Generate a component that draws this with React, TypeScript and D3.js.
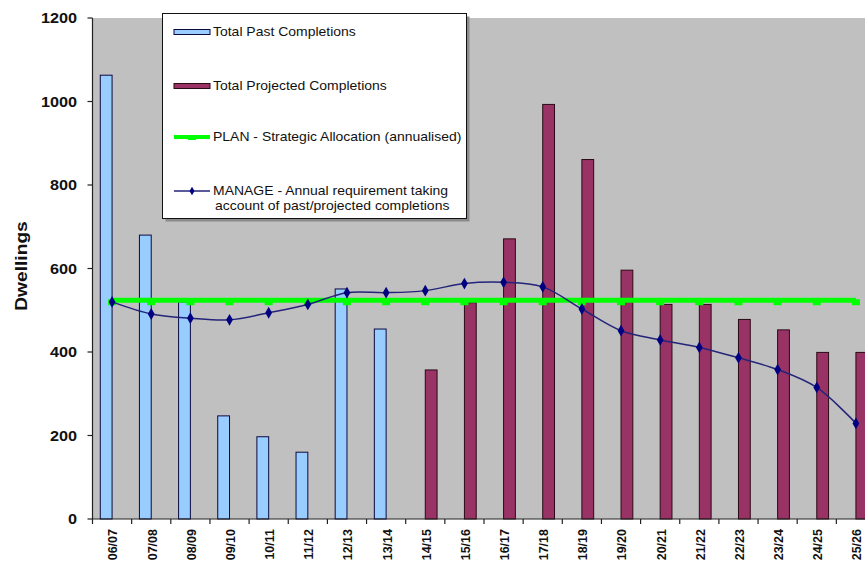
import React from "react";
import * as d3 from "d3";

const categories = ["06/07","07/08","08/09","09/10","10/11","11/12","12/13","13/14","14/15","15/16","16/17","17/18","18/19","19/20","20/21","21/22","22/23","23/24","24/25","25/26"];
const pastCompletions: (number | null)[] = [1063, 680, 520, 247, 197, 160, 551, 455, null, null, null, null, null, null, null, null, null, null, null, null];
const projectedCompletions: (number | null)[] = [null, null, null, null, null, null, null, null, 357, 518, 671, 993, 861, 596, 514, 514, 478, 453, 399, 399];
const planAllocation = [524, 524, 524, 524, 524, 524, 524, 524, 524, 524, 524, 524, 524, 524, 524, 524, 524, 524, 524, 524];
const manageRequirement = [520, 491, 481, 477, 494, 514, 542, 542, 547, 564, 567, 556, 503, 451, 429, 411, 386, 358, 315, 229];
const yTicks = [0, 200, 400, 600, 800, 1000, 1200];
const seriesKeys = ["past", "projected"];
const legendLabels = ["Total Past Completions", "Total Projected Completions", "PLAN - Strategic Allocation (annualised)", "MANAGE - Annual requirement taking", "account of past/projected completions"];

const W = 865, H = 566;
const left = 92.5, right = 875.5, top = 18, bottom = 519;
const FONT = "'Liberation Sans', Arial, sans-serif";

export default function App() {
  const x = d3.scaleBand<string>().domain(categories).range([left, right]).paddingInner(0).paddingOuter(0);
  const xs = d3.scaleBand<string>().domain(seriesKeys).range([0, x.bandwidth()]).paddingInner(0).paddingOuter(0.66);
  const y = d3.scaleLinear().domain([0, 1200]).range([bottom, top]);
  const cx = (c: string) => (x(c) as number) + x.bandwidth() / 2;

  const manageLine = d3.line<number>().x((_, i) => cx(categories[i])).y((d) => y(d)).curve(d3.curveCatmullRom.alpha(0.5));
  const planLine = d3.line<number>().x((_, i) => cx(categories[i])).y((d) => y(d));
  const diamond = d3.symbol().type(d3.symbolDiamond).size(40)() as string;
  const smallDiamond = d3.symbol().type(d3.symbolDiamond).size(22)() as string;

  const tickXs = categories.map((c) => x(c) as number).concat([right]);
  const LS = 1.117;

  const legendRows = [
    { y: 32, label: legendLabels[0] },
    { y: 86, label: legendLabels[1] },
    { y: 137, label: legendLabels[2] },
    { y: 191, label: legendLabels[3] },
    { y: 206, label: legendLabels[4] },
  ];

  return (
    <svg width={W} height={H} style={{ position: "absolute", left: 0, top: 0, background: "#fff", fontFamily: FONT }}>
      <rect x={left} y={top} width={right - left} height={bottom - top} fill="#c0c0c0" />
      {categories.map((c, i) => {
        const p = pastCompletions[i];
        const q = projectedCompletions[i];
        return (
          <g key={c}>
            {p != null && (
              <rect x={(x(c) as number) + (xs("past") as number)} y={y(p)} width={xs.bandwidth()} height={y(0) - y(p)} fill="#99ccff" stroke="#0a0a40" strokeWidth={1} />
            )}
            {q != null && (
              <rect x={(x(c) as number) + (xs("projected") as number)} y={y(q)} width={xs.bandwidth()} height={y(0) - y(q)} fill="#993366" stroke="#2a0a15" strokeWidth={1} />
            )}
          </g>
        );
      })}
      <path d={planLine(planAllocation) as string} fill="none" stroke="#00ff00" strokeWidth={5} />
      {planAllocation.map((v, i) => (
        <rect key={i} x={cx(categories[i]) - 4} y={y(v) - 1} width={8} height={6} fill="#00ff00" />
      ))}
      <path d={manageLine(manageRequirement) as string} fill="none" stroke="#24247a" strokeWidth={1.5} />
      {manageRequirement.map((v, i) => (
        <path key={i} d={diamond} transform={`translate(${cx(categories[i])},${y(v)})`} fill="#000080" />
      ))}
      <line x1={left} x2={left} y1={top} y2={bottom} stroke="#222" strokeWidth={1.2} />
      <line x1={left} x2={right} y1={bottom} y2={bottom} stroke="#222" strokeWidth={1.2} />
      {yTicks.map((t) => (
        <g key={t}>
          <line x1={left - 5} x2={left} y1={y(t)} y2={y(t)} stroke="#222" strokeWidth={1.2} />
          <text transform={`translate(77,${y(t)}) scale(1.12,1)`} dy="0.35em" textAnchor="end" fontSize={14.5} fontWeight="bold" fill="#111">{t}</text>
        </g>
      ))}
      {tickXs.map((tx, i) => (
        <line key={i} x1={tx} x2={tx} y1={bottom} y2={bottom + 5} stroke="#222" strokeWidth={1.2} />
      ))}
      {categories.map((c) => (
        <text key={c} transform={`translate(${cx(c) + 1},${529}) rotate(-90)`} textAnchor="end" dy="0.35em" fontSize={12.5} fontWeight="bold" fill="#111">{c}</text>
      ))}
      <text transform={`translate(21,266) rotate(-90) scale(1.2,1)`} textAnchor="middle" dy="0.35em" fontSize={16} fontWeight="bold" fill="#111">Dwellings</text>
      <g>
        <rect x={165.5} y={16.5} width={304} height={205} fill="#8a8a8a" />
        <rect x={162.5} y={13.5} width={304} height={205} fill="#fff" stroke="#111" strokeWidth={1} />
        <rect x={174} y={29.5} width={36} height={5} fill="#99ccff" stroke="#0a0a40" strokeWidth={1} />
        <rect x={174} y={83.5} width={36} height={5} fill="#993366" stroke="#2a0a15" strokeWidth={1} />
        <line x1={174} x2={210} y1={137} y2={137} stroke="#00ff00" strokeWidth={4} />
        <rect x={188} y={135} width={8} height={5} fill="#00ff00" />
        <line x1={174} x2={210} y1={191} y2={191} stroke="#24247a" strokeWidth={1.5} />
        <path d={smallDiamond} transform="translate(192,191)" fill="#000080" />
        {legendRows.map((r, i) => (
          <text key={i} transform={`translate(${i === 4 ? 215 : 213},${r.y}) scale(${LS},1)`} dy="0.35em" fontSize={12.5} fill="#111">{r.label}</text>
        ))}
      </g>
    </svg>
  );
}
